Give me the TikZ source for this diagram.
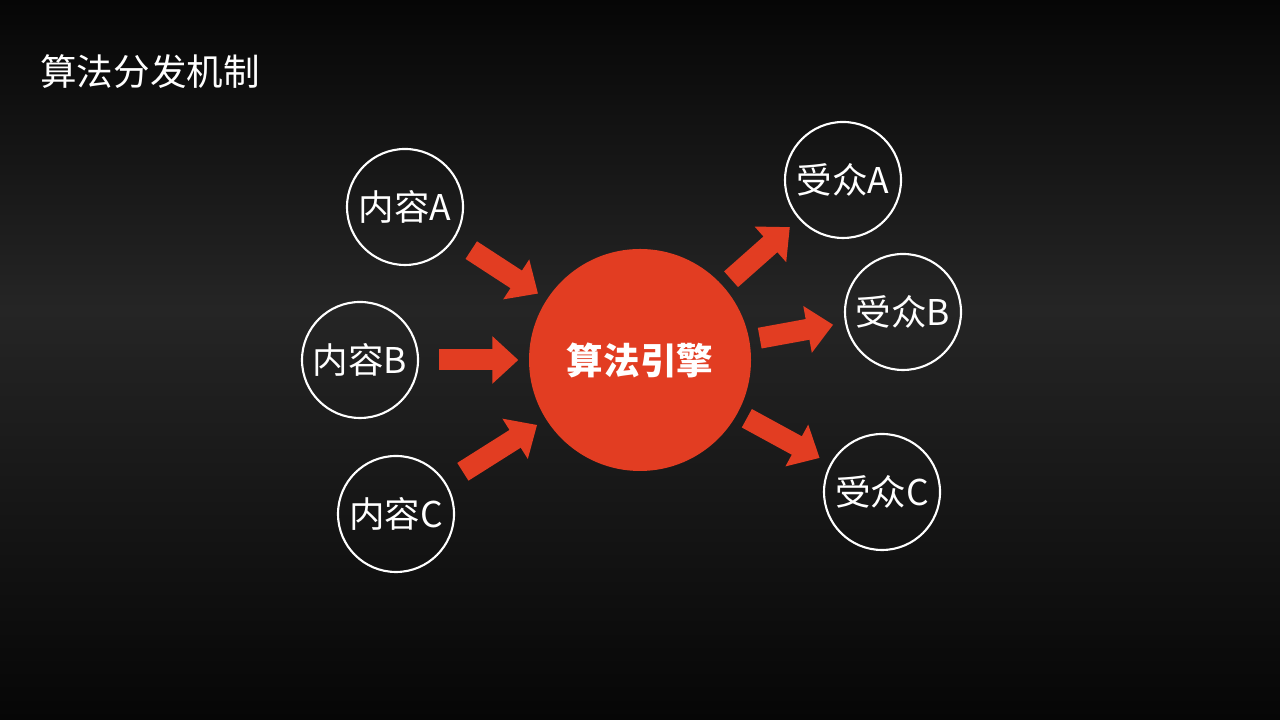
\documentclass[tikz,border=0pt]{standalone}
\usepackage{fontspec}
\newfontfamily\cjk{Noto Sans CJK SC}
\usetikzlibrary{arrows.meta}
\definecolor{engine}{HTML}{E23D22}
\definecolor{bgdark}{HTML}{060606}
\definecolor{bgmid}{HTML}{252525}

\begin{document}
\begin{tikzpicture}[
  item/.style={draw=white, circle, line width=0.6pt, minimum size=1.16cm, inner sep=0pt,
               text=white, font=\cjk\fontsize{10.1}{12}\selectfont},
  core/.style={circle, fill=engine, minimum size=2.22cm, inner sep=0pt,
               text=white, font=\cjk\bfseries\fontsize{10.4}{12}\selectfont},
  arr/.style={-{Triangle[length=0.26cm,width=0.46cm]}, line width=0.21cm, engine},
  arrin/.style={arr, shorten <=0.20cm, shorten >=0.10cm},
  arrout/.style={arr, shorten <=0.10cm, shorten >=0.12cm}
]
  \fill[top color=bgdark, bottom color=bgmid] (0,4.1) rectangle (12.8,7.2);
  \fill[top color=bgmid, bottom color=bgdark] (0,0) rectangle (12.8,4.1);
  \useasboundingbox (0,0) rectangle (12.8,7.2);

  \node[anchor=west, text=white, font=\cjk\fontsize{10.4}{12}\selectfont] (title) at (0.28,6.48) {算法分发机制};

  \node[core] (eng) at (6.40,3.60) {算法引擎};

  \node[item] (inA) at (4.05,5.13) {内容A};
  \node[item] (inB) at (3.60,3.60) {内容B};
  \node[item] (inC) at (3.96,2.06) {内容C};

  \node[item] (auA) at (8.43,5.40) {受众A};
  \node[item] (auB) at (9.03,4.08) {受众B};
  \node[item] (auC) at (8.82,2.28) {受众C};

  \draw[arrin] (inA) -- (eng);
  \draw[arrin] (inB) -- (eng);
  \draw[arrin] (inC) -- (eng);
  \draw[arrout] (eng) -- (auA);
  \draw[arrout] (eng) -- (auB);
  \draw[arrout] (eng) -- (auC);
\end{tikzpicture}
\end{document}
